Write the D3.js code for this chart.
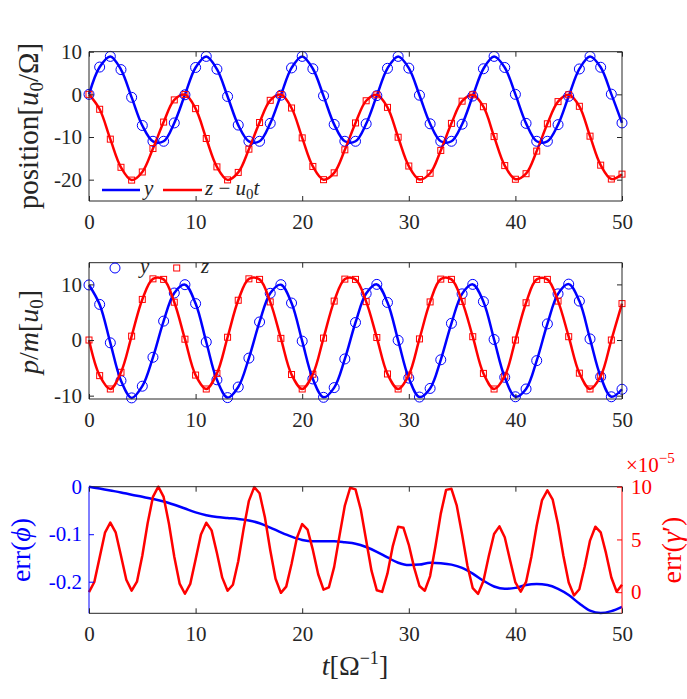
<!DOCTYPE html>
<html><head><meta charset="utf-8">
<script src="https://cdn.jsdelivr.net/npm/d3@7"></script>
<style>body{margin:0;background:#fff}svg{display:block}text{font-family:"Liberation Serif",serif}</style>
</head><body><svg id="c" width="687" height="699"></svg>
<script>
// ---------- data ----------
const tInt = [0,1,2,3,4,5,6,7,8,9,10,11,12,13,14,15,16,17,18,19,20,21,22,23,24,25,26,27,28,29,30,31,32,33,34,35,36,37,38,39,40,41,42,43,44,45,46,47,48,49,50];
const posY = [0,6.4,8.9,5.8,-0.7,-7.3,-11.0,-11.0,-6.7,
  -0.1,6.3,8.9,5.9,-0.5,-7.2,-11.0,-11.0,-6.8,
  -0.2,6.2,8.9,6.0,-0.35,-7.05,-11.0,-11.0,-6.9,
  -0.3,6.1,8.9,6.15,-0.2,-6.9,-11.0,-11.0,-7.0,
  -0.4,6.0,8.9,6.3,0.0,-6.8,-11.0,-11.0,-7.1,
  -0.45,5.95,8.9,6.35,0.05,-6.7];
const posZ = [0,-3.5,-10.5,-17.1,-20.1,-18.2,-12.7,-6.5,-1.3,
  -0.05,-3.35,-10.35,-17.0,-20.05,-18.3,-12.85,-6.6,-1.4,
  -0.05,-3.2,-10.2,-16.9,-20.0,-18.4,-13.0,-6.7,-1.5,
  -0.1,-3.05,-10.05,-16.8,-19.95,-18.5,-13.15,-6.8,-1.6,
  -0.1,-2.9,-9.9,-16.7,-19.9,-18.6,-13.3,-6.9,-1.7,
  -0.1,-2.8,-9.8,-16.6,-19.85,-18.7];
const momY = [9.9,6.4,-0.5,-7.3,-10.4,-8.3,-3.1,3.4,8.45,
  9.95,6.55,-0.35,-7.15,-10.35,-8.45,-3.25,3.25,8.4,
  9.95,6.65,-0.2,-7.0,-10.3,-8.55,-3.4,3.15,8.35,
  10.0,6.75,-0.05,-6.85,-10.25,-8.7,-3.55,3.0,8.3,
  10.0,6.9,0.1,-6.7,-10.2,-8.8,-3.7,2.9,8.3,
  10.05,7.0,0.2,-6.6,-10.2,-8.85];
const momZ = [0,-6.4,-8.8,-5.8,0.7,7.3,11.0,10.9,6.8,
  0.15,-6.3,-8.8,-6.0,0.5,7.15,11.0,10.9,6.85,
  0.3,-6.2,-8.8,-6.15,0.35,7.0,10.95,10.9,6.9,
  0.45,-6.1,-8.8,-6.3,0.2,6.85,10.95,10.9,6.95,
  0.6,-6.0,-8.8,-6.5,0.0,6.7,10.9,10.9,7.0,
  0.6,-5.95,-8.8,-6.5,0.0,6.55];
const errPhi = [0,-0.004,-0.008,-0.012,-0.017,-0.021,-0.026,-0.031,-0.038,-0.046,
  -0.054,-0.060,-0.064,-0.066,-0.068,-0.071,-0.077,-0.086,-0.096,-0.105,
  -0.112,-0.115,-0.115,-0.115,-0.117,-0.120,-0.127,-0.137,-0.149,-0.160,
  -0.165,-0.164,-0.160,-0.161,-0.164,-0.171,-0.183,-0.198,-0.210,-0.215,
  -0.213,-0.207,-0.205,-0.207,-0.215,-0.228,-0.246,-0.261,-0.266,-0.262,-0.253];
const tHalf = [0,0.5,1,1.5,2,2.5,3,3.5,4,4.5,5,5.5,6,6.5,7,7.5,8,8.5,9,9.5,
  10,10.5,11,11.5,12,12.5,13,13.5,14,14.5,15,15.5,16,16.5,17,17.5,18,18.5,19,19.5,
  20,20.5,21,21.5,22,22.5,23,23.5,24,24.5,25,25.5,26,26.5,27,27.5,28,28.5,29,29.5,
  30,30.5,31,31.5,32,32.5,33,33.5,34,34.5,35,35.5,36,36.5,37,37.5,38,38.5,39,39.5,
  40,40.5,41,41.5,42,42.5,43,43.5,44,44.5,45,45.5,46,46.5,47,47.5,48,48.5,49,49.5,50];
const errGamma = [0,0.97,3.3,5.64,6.6,5.68,3.45,1.18,0.15,1.0,
  3.45,6.53,9.04,10.0,9.03,6.49,3.36,0.82,-0.15,0.79,
  3.10,5.47,6.59,5.86,3.72,1.38,0.14,0.71,2.94,5.98,
  8.66,9.96,9.38,7.10,4.00,1.27,-0.06,0.53,2.68,5.14,
  6.46,5.94,4.01,1.70,0.24,0.45,2.40,5.36,8.21,9.9,
  9.75,7.82,4.93,2.04,0.18,0.03,1.78,4.37,6.2,6.1,
  4.49,2.33,0.59,0.14,1.53,4.36,7.45,9.7,9.8,8.20,
  5.46,2.50,0.38,-0.16,1.07,3.40,5.51,6.24,5.21,3.03,
  0.92,0.05,0.97,3.37,6.33,8.73,9.65,8.77,6.42,3.45,
  0.91,-0.31,0.28,2.43,4.89,6.21,5.68,3.70,1.39,0.04,0.7];
const xTicks = [0,10,20,30,40,50];
const posTicks = [-20,-10,0,10];
const momTicks = [-10,0,10];
const phiTicks = [-0.2,-0.1,0];
const gamTicks = [0,5,10];

// ---------- layout ----------
const svg = d3.select("#c");
const L = 89, R = 622;
const AX = "#262626", BLUE = "#0000ff", RED = "#ff0000";
const FS = 21, LFS = 28;
const x = d3.scaleLinear().domain([0,50]).range([L,R]);
const panels = [
  {top:51.7, bot:201},
  {top:262.7, bot:399},
  {top:486.7, bot:613.3}
];
const y1 = d3.scaleLinear().domain([-25,10]).range([panels[0].bot, panels[0].top]);
const y2 = d3.scaleLinear().domain([-10.6,13.9]).range([panels[1].bot, panels[1].top]);
const y3 = d3.scaleLinear().domain([-0.2665,0]).range([panels[2].bot, panels[2].top]);
const y3r = d3.scaleLinear().domain([-2,10]).range([panels[2].bot, panels[2].top]);
const fmt = d => String(d).replace("−","-");

function styleAxis(g, color){
  g.attr("font-family", '"Liberation Serif",serif');
  g.select(".domain").remove();
  g.selectAll("line").attr("stroke", color);
  g.selectAll("text").attr("fill", color).attr("font-size", FS).attr("font-family", '"Liberation Serif",serif');
}
function xAxes(p){
  const gb = svg.append("g").attr("transform",`translate(0,${p.bot})`)
    .call(d3.axisBottom(x).tickValues(xTicks).tickSize(-5).tickPadding(13).tickFormat(fmt));
  styleAxis(gb, AX);
  const gt = svg.append("g").attr("transform",`translate(0,${p.top})`)
    .call(d3.axisTop(x).tickValues(xTicks).tickSize(-5).tickFormat(""));
  styleAxis(gt, AX);
}
function yAxes(ys, ticks, withRight){
  const gl = svg.append("g").attr("transform",`translate(${L},0)`)
    .call(d3.axisLeft(ys).tickValues(ticks).tickSize(-5).tickPadding(7).tickFormat(fmt));
  styleAxis(gl, AX);
  if(withRight){
    const gr = svg.append("g").attr("transform",`translate(${R},0)`)
      .call(d3.axisRight(ys).tickValues(ticks).tickSize(-5).tickFormat(""));
    styleAxis(gr, AX);
  }
}
function box(p, lc, rc){
  svg.append("line").attr("x1",L).attr("x2",R).attr("y1",p.top).attr("y2",p.top).attr("stroke",AX);
  svg.append("line").attr("x1",L).attr("x2",R).attr("y1",p.bot).attr("y2",p.bot).attr("stroke",AX);
  svg.append("line").attr("x1",L).attr("x2",L).attr("y1",p.top).attr("y2",p.bot).attr("stroke",lc);
  svg.append("line").attr("x1",R).attr("x2",R).attr("y1",p.top).attr("y2",p.bot).attr("stroke",rc);
}
function circles(g, xs, vals, ys, color){
  g.selectAll(null).data(vals).join("circle")
    .attr("cx",(d,i)=>x(xs[i])).attr("cy",d=>ys(d)).attr("r",5)
    .attr("fill","none").attr("stroke",color).attr("stroke-width",1);
}
function squares(g, xs, vals, ys, color){
  g.selectAll(null).data(vals).join("rect")
    .attr("x",(d,i)=>x(xs[i])-3).attr("y",d=>ys(d)-3).attr("width",6).attr("height",6)
    .attr("fill","none").attr("stroke",color).attr("stroke-width",1);
}
function curve(g, xs, vals, ys, color, cv){
  const ln = d3.line().x((d,i)=>x(xs[i])).y(d=>ys(d)).curve(cv||d3.curveCatmullRom);
  g.append("path").attr("d", ln(vals)).attr("fill","none").attr("stroke",color)
    .attr("stroke-width",2.5).attr("stroke-linejoin","round");
}
function label(parent, parts, attrs){
  const t = parent.append("text");
  for(const k in attrs) t.attr(k, attrs[k]);
  parts.forEach(p=>{
    const s = t.append("tspan").text(p.t);
    if(p.i) s.attr("font-style","italic");
    if(p.fs) s.attr("font-size", p.fs);
    if(p.dy) s.attr("dy", p.dy);
  });
  return t;
}

// ---------- panel 1 ----------
{
  const p = panels[0];
  const g = svg.append("g");
  curve(g, tInt, posY, y1, BLUE);
  curve(g, tInt, posZ, y1, RED);
  circles(g, tInt, posY, y1, BLUE);
  squares(g, tInt, posZ, y1, RED);
  box(p, AX, AX); xAxes(p); yAxes(y1, posTicks, true);
  // legend
  svg.append("line").attr("x1",102).attr("x2",140).attr("y1",190).attr("y2",190).attr("stroke",BLUE).attr("stroke-width",2.5);
  label(svg, [{t:"y",i:true}], {x:144, y:195, "font-size":21, fill:AX});
  svg.append("line").attr("x1",163).attr("x2",202).attr("y1",190).attr("y2",190).attr("stroke",RED).attr("stroke-width",2.5);
  label(svg, [{t:"z",i:true},{t:" − "},{t:"u",i:true},{t:"0",fs:15,dy:4},{t:"t",i:true,dy:-4}], {x:205, y:195, "font-size":21, fill:AX});
  label(svg, [{t:"position["},{t:"u",i:true},{t:"0",fs:19,dy:5},{t:"/Ω]",dy:-5}],
    {transform:"translate(38,126) rotate(-90)", "text-anchor":"middle", "font-size":LFS+1, fill:AX});
}
// ---------- panel 2 ----------
{
  const p = panels[1];
  const g = svg.append("g");
  circles(g, tInt, momY, y2, BLUE);
  squares(g, tInt, momZ, y2, RED);
  curve(g, tInt, momY, y2, BLUE);
  curve(g, tInt, momZ, y2, RED);
  box(p, AX, AX); xAxes(p); yAxes(y2, momTicks, true);
  svg.append("circle").attr("cx",115).attr("cy",268).attr("r",5).attr("fill","none").attr("stroke",BLUE);
  label(svg, [{t:"y",i:true}], {x:140, y:273, "font-size":21, fill:AX});
  svg.append("rect").attr("x",173.7).attr("y",265).attr("width",6).attr("height",6).attr("fill","none").attr("stroke",RED);
  label(svg, [{t:"z",i:true}], {x:201, y:273, "font-size":21, fill:AX});
  label(svg, [{t:"p",i:true},{t:"/"},{t:"m",i:true},{t:"["},{t:"u",i:true},{t:"0",fs:19,dy:5},{t:"]",dy:-5}],
    {transform:"translate(38,332) rotate(-90)", "text-anchor":"middle", "font-size":LFS, fill:AX});
}
// ---------- panel 3 ----------
{
  const p = panels[2];
  const g = svg.append("g");
  curve(g, tInt, errPhi, y3, BLUE, d3.curveMonotoneX);
  curve(g, tHalf, errGamma, y3r, RED, d3.curveLinear);
  box(p, BLUE, RED); xAxes(p);
  const gl = svg.append("g").attr("transform",`translate(${L},0)`)
    .call(d3.axisLeft(y3).tickValues(phiTicks).tickSize(-5).tickPadding(7).tickFormat(fmt));
  styleAxis(gl, BLUE);
  const gr = svg.append("g").attr("transform",`translate(${R},0)`)
    .call(d3.axisRight(y3r).tickValues(gamTicks).tickSize(-5).tickPadding(9).tickFormat(fmt));
  styleAxis(gr, RED);
  label(svg, [{t:"×10"},{t:"−5",fs:15,dy:-9}], {x:626, y:472, "font-size":FS, fill:RED});
  label(svg, [{t:"err("},{t:"ϕ",i:true},{t:")"}],
    {transform:"translate(30,550) rotate(-90)", "text-anchor":"middle", "font-size":LFS, fill:BLUE});
  label(svg, [{t:"err("},{t:"γ",i:true},{t:"′)"}],
    {transform:"translate(681,550) rotate(-90)", "text-anchor":"middle", "font-size":LFS, fill:RED});
  label(svg, [{t:"t",i:true},{t:"[Ω"},{t:"−1",fs:18,dy:-11},{t:"]",dy:11}],
    {x:355, y:675, "text-anchor":"middle", "font-size":LFS, fill:AX});
}
</script></body></html>
